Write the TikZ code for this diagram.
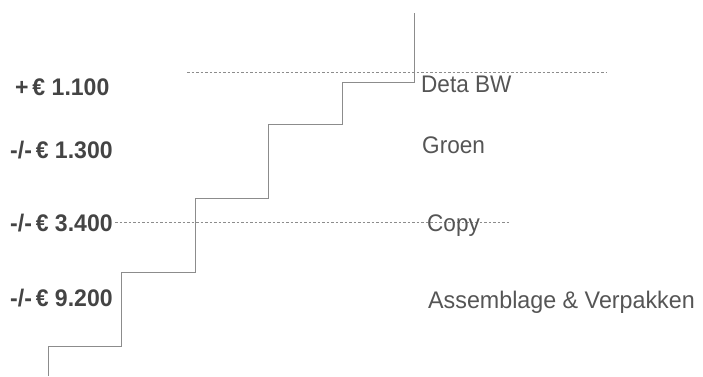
\documentclass[tikz,border=0pt]{standalone}
\usepackage{fontspec}
\setmainfont{Liberation Sans}
\definecolor{txtgray}{HTML}{555555}
\definecolor{boldgray}{HTML}{444444}
\definecolor{linegray}{HTML}{8C8C8C}
\newcommand{\narrowtxt}[2]{\scalebox{#1}[1]{#2}}
\begin{document}
\begin{tikzpicture}[x=1pt,y=-1pt,
  stair/.style={draw=linegray,line width=0.8pt},
  guide/.style={draw=linegray,line width=0.7pt,dash pattern=on 2.5pt off 2pt},
  costlabel/.style={inner sep=0pt,anchor=base west,text=boldgray,font=\fontsize{24}{28}\selectfont\bfseries},
  steplabel/.style={inner sep=0pt,anchor=base west,text=txtgray,font=\fontsize{24}{28}\selectfont}]
\useasboundingbox (0,0) rectangle (703,376);
% staircase corners
\coordinate (s0) at (414,13);
\coordinate (s1) at (414,82);
\coordinate (s2) at (342,82);
\coordinate (s3) at (342,124);
\coordinate (s4) at (268,124);
\coordinate (s5) at (268,198);
\coordinate (s6) at (195,198);
\coordinate (s7) at (195,272);
\coordinate (s8) at (121,272);
\coordinate (s9) at (121,346);
\coordinate (s10) at (48,346);
\coordinate (s11) at (48,376);
% guide line ends
\coordinate (g1a) at (187,72);
\coordinate (g1b) at (607,72);
\coordinate (g2a) at (115,222);
\coordinate (g2b) at (510,222);
\draw[guide] (g1a) -- (g1b);
\draw[guide] (g2a) -- (g2b);
\draw[stair] (s0) -- (s1) -- (s2) -- (s3) -- (s4) -- (s5) -- (s6) -- (s7) -- (s8) -- (s9) -- (s10) -- (s11);
% left cost labels
\node[costlabel] (c1) at (15,95) {\narrowtxt{0.96}{+\,€ 1.100}};
\node[costlabel] (c2) at (10,158) {\narrowtxt{0.96}{-/-\,€ 1.300}};
\node[costlabel] (c3) at (10,231) {\narrowtxt{0.96}{-/-\,€ 3.400}};
\node[costlabel] (c4) at (10,306) {\narrowtxt{0.96}{-/-\,€ 9.200}};
% right step labels
\node[steplabel] (l1) at (421,92) {\narrowtxt{0.94}{Deta BW}};
\node[steplabel] (l2) at (422,153) {\narrowtxt{0.94}{Groen}};
\node[steplabel] (l3) at (427,231) {\narrowtxt{0.94}{Copy}};
\node[steplabel] (l4) at (428,308) {\narrowtxt{0.97}{Assemblage \& Verpakken}};
\end{tikzpicture}
\end{document}
